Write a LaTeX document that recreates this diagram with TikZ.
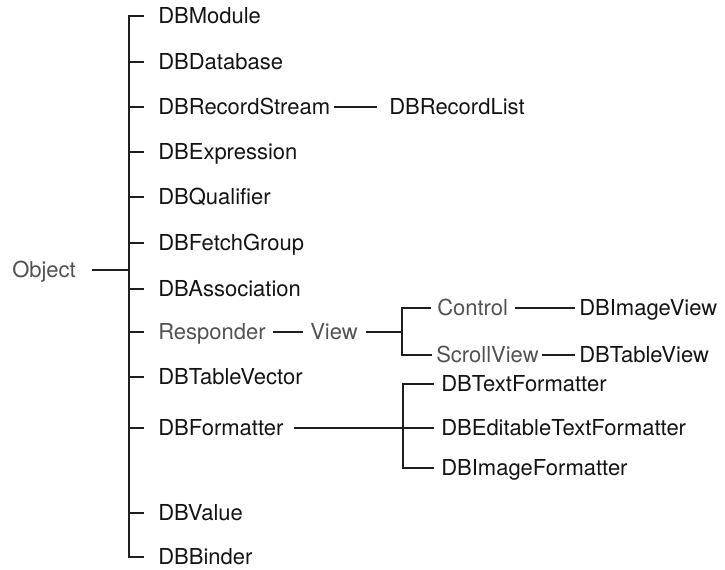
\documentclass[tikz,border=0pt]{standalone}
\usepackage{fontspec}
\setmainfont{TeX Gyre Heros}
\begin{document}
\begin{tikzpicture}[x=0.75pt,y=-0.75pt,
  txt/.style={anchor=west,inner sep=0pt,text height=11.8pt,text depth=0pt,
              font=\fontsize{16.5pt}{18pt}\selectfont,text=black!92},
  soft/.style={txt,text=black!68},
  link/.style={line width=1.55pt,draw=black!88}]
\useasboundingbox (0,0) rectangle (725,570);

% root and trunk
\node[soft] (obj) at (12,270) {Object};
\coordinate (trunk) at (129,0);

% direct subclasses of Object
\node[txt]  (m1)  at (158,16)  {DBModule};
\node[txt]  (m2)  at (158,62)  {DBDatabase};
\node[txt]  (m3)  at (158,107) {DBRecordStream};
\node[txt]  (m4)  at (158,152) {DBExpression};
\node[txt]  (m5)  at (158,197) {DBQualifier};
\node[txt]  (m6)  at (158,243) {DBFetchGroup};
\node[txt]  (m7)  at (158,289) {DBAssociation};
\node[soft] (m8)  at (158,332) {Responder};
\node[txt]  (m9)  at (158,377) {DBTableVector};
\node[txt]  (m10) at (158,428) {DBFormatter};
\node[txt]  (m11) at (158,513) {DBValue};
\node[txt]  (m12) at (158,557) {DBBinder};

% deeper levels
\node[txt]  (rl)   at (389,107) {DBRecordList};
\node[soft] (view) at (310,332) {View};
\coordinate (vx) at (402,0);
\node[soft] (ctl)  at (437,308) {Control};
\node[soft] (scr)  at (436,355) {ScrollView};
\node[txt]  (imv)  at (579,308) {DBImageView};
\node[txt]  (tbv)  at (579,355) {DBTableView};
\coordinate (fx) at (403,0);
\node[txt]  (tf)   at (441,384) {DBTextFormatter};
\node[txt]  (etf)  at (441,428) {DBEditableTextFormatter};
\node[txt]  (imf)  at (441,468) {DBImageFormatter};

% trunk with its ticks
\draw[link] ([xshift=12pt]obj.east) -- (obj.east -| trunk);
\draw[link] ([xshift=-10.5pt]m1.west) -- (m1.west -| trunk)
  -- (m12.west -| trunk) -- ([xshift=-10.5pt]m12.west);
\foreach \n in {m2,m3,m4,m5,m6,m7,m8,m9,m10,m11}
  \draw[link] (\n.west -| trunk) -- ([xshift=-10.5pt]\n.west);

% DBRecordStream branch
\draw[link] ([xshift=3pt]m3.east) -- ([xshift=-9pt]rl.west);

% Responder branch
\draw[link] ([xshift=5pt]m8.east) -- ([xshift=-5pt]view.west);
\draw[link] ([xshift=6pt]view.east) -- (view.east -| vx);
\draw[link] ([xshift=-4.5pt]ctl.west) -- (ctl.west -| vx)
  -- (scr.west -| vx) -- ([xshift=-3pt]scr.west);
\draw[link] ([xshift=5pt]ctl.east) -- ([xshift=-3pt]imv.west);
\draw[link] ([xshift=2pt]scr.east) -- ([xshift=-3pt]tbv.west);

% DBFormatter branch
\draw[link] ([xshift=-5pt]tf.west) -- (tf.west -| fx)
  -- (imf.west -| fx) -- ([xshift=-5pt]imf.west);
\draw[link] ([xshift=8pt]m10.east) -- ([xshift=-5pt]etf.west);
\end{tikzpicture}
\end{document}
